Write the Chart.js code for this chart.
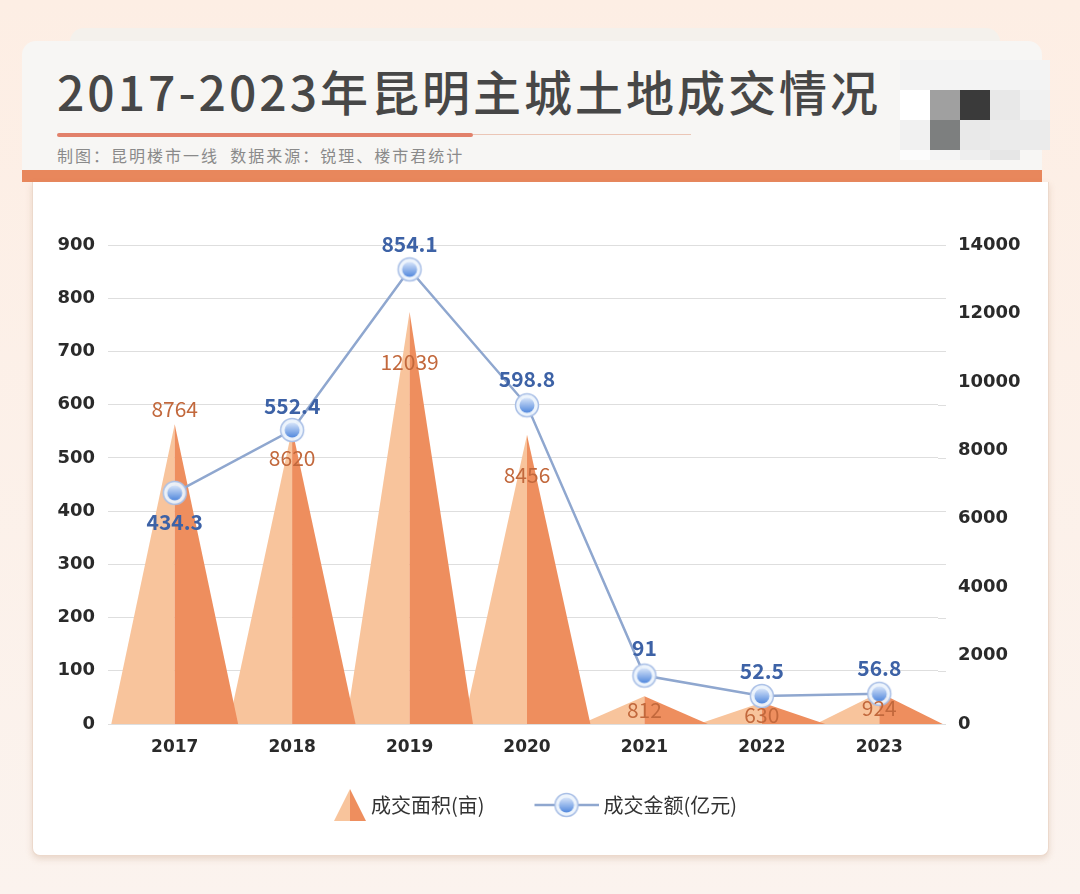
<!DOCTYPE html>
<html>
<head>
<meta charset="utf-8">
<script src="https://cdn.jsdelivr.net/npm/chart.js@4/dist/chart.umd.min.js"></script>
<style>
  html, body { margin: 0; padding: 0; }
  body { width: 1080px; height: 894px; overflow: hidden; position: relative;
         background: linear-gradient(#fdeee4, #fbf3ee); font-family: "Noto Sans CJK SC", sans-serif; }
  .back { position: absolute; left: 70px; top: 28px; width: 930px; height: 40px; border-radius: 14px; background: #f4f1ec; }
  .head { position: absolute; left: 22px; top: 41px; width: 1020px; height: 135px; border-radius: 14px 14px 0 0; background: #f7f6f4; }
  .head h1 { position: absolute; left: 35px; top: 21px; margin: 0; font-size: 48px; font-weight: 500; letter-spacing: 3px; color: #474747; white-space: nowrap; line-height: 1.2; }
  .rule { position: absolute; left: 35px; top: 92px; width: 416px; height: 4px; background: #e2816a; border-radius: 2px; }
  .rule2 { position: absolute; left: 451px; top: 93px; width: 218px; height: 1px; background: #ebc6b6; }
  .sub { position: absolute; left: 35px; top: 102px; font-size: 16px; letter-spacing: 2px; color: #8a8a8a; white-space: pre; }
  .mosaic { position: absolute; left: 900px; top: 60px; width: 150px; height: 100px; }
  .mosaic div { position: absolute; width: 30px; height: 30px; }
  .bar { position: absolute; left: 22px; top: 170px; width: 1020px; height: 12px; background: #e8875c; }
  .card { position: absolute; left: 32px; top: 182px; width: 1015px; height: 673px; background: #fff;
          border-radius: 0 0 8px 8px; border: 1px solid #ecd9cc; border-top: none;
          box-shadow: 0 3px 6px rgba(190,150,120,0.3); }
  canvas { position: absolute; left: -20px; top: 182px; }
</style>
</head>
<body>
<div class="back"></div>
<div class="head">
  <h1>2017-2023年昆明主城土地成交情况</h1>
  <div class="rule"></div><div class="rule2"></div>
  <div class="sub">制图：昆明楼市一线  数据来源：锐理、楼市君统计</div>
</div>
<div class="mosaic">
  <div style="left:0;top:0;width:150px;background:#f3f3f3"></div>
  <div style="left:0;top:30px;background:#ffffff"></div>
  <div style="left:30px;top:30px;background:#a0a0a0"></div>
  <div style="left:60px;top:30px;background:#3a3a3a"></div>
  <div style="left:90px;top:30px;background:#e8e8e8"></div>
  <div style="left:120px;top:30px;background:#f1f1f1"></div>
  <div style="left:0;top:60px;background:#f1f1f1"></div>
  <div style="left:30px;top:60px;background:#7d7f7f"></div>
  <div style="left:60px;top:60px;background:#e9e9e9"></div>
  <div style="left:90px;top:60px;background:#ebebeb"></div>
  <div style="left:120px;top:60px;background:#ebebeb"></div>
  <div style="left:0;top:90px;height:10px;background:#fcfcfc"></div>
  <div style="left:30px;top:90px;height:10px;background:#f4f4f4"></div>
  <div style="left:60px;top:90px;height:10px;background:#eeeeee"></div>
  <div style="left:90px;top:90px;height:10px;background:#e6e6e6"></div>
</div>
<div class="bar"></div>
<div class="card"></div>
<canvas id="myChart" width="1100" height="674"></canvas>

<script>
// categories and values
let years = ['2017', '2018', '2019', '2020', '2021', '2022', '2023'];
let areaMu = [8764, 8620, 12039, 8456, 812, 630, 924];          // 成交面积(亩), right axis
let amountYi = [434.3, 552.4, 854.1, 598.8, 91, 52.5, 56.8];    // 成交金额(亿元), left axis
let amountAxisMax = 900, amountAxisStep = 100;
let areaAxisMax = 14000, areaAxisStep = 2000;

// colours
let coneLight = '#f8c49c';
let coneDark = '#ee8e5e';
let lineBlue = '#8fa7cf';

// where each value label sits relative to its mark (px, + is down)
let areaLabelShift = [-15, 29, 50, 40, 14, 13, 16];
let amountLabelShift = [29, -24, -25, -26, -28, -25, -26];

// legend icons: 84px box, icon right-aligned and poking 5px past the box
let iconBox = 84, iconPoke = 5;

function makeDot(w, lineLen) {
    let c = document.createElement('canvas');
    c.width = w; c.height = 28;
    let g = c.getContext('2d');
    let cx = w - (lineLen ? lineLen / 2 : w / 2), cy = 14;
    if (lineLen) {
        g.strokeStyle = lineBlue; g.lineWidth = 2.5;
        g.beginPath(); g.moveTo(w - lineLen, cy); g.lineTo(w, cy); g.stroke();
    }
    g.fillStyle = 'rgba(236,243,252,0.95)';
    g.beginPath(); g.arc(cx, cy, 11.5, 0, Math.PI * 2); g.fill();
    g.strokeStyle = '#a9bfe6'; g.lineWidth = 1.5; g.stroke();
    let grad = g.createLinearGradient(0, cy - 8, 0, cy + 8);
    grad.addColorStop(0, '#dbe7fa');
    grad.addColorStop(1, '#4d85dc');
    g.fillStyle = grad;
    g.beginPath(); g.arc(cx, cy, 7.5, 0, Math.PI * 2); g.fill();
    return c;
}

function makeCone(w) {
    let c = document.createElement('canvas');
    c.width = w; c.height = 34;
    let g = c.getContext('2d');
    let cx = w - 16;
    g.fillStyle = coneLight;
    g.beginPath(); g.moveTo(cx, 1); g.lineTo(cx - 16, 33); g.lineTo(cx, 33); g.closePath(); g.fill();
    g.fillStyle = coneDark;
    g.beginPath(); g.moveTo(cx, 1); g.lineTo(cx + 16, 33); g.lineTo(cx, 33); g.closePath(); g.fill();
    return c;
}

let dotImg = makeDot(28, 0);
let legendLine = makeDot(iconBox + 2 * iconPoke, 64);
let legendCone = makeCone(iconBox + 2 * iconPoke);

// draws the two-tone triangles from the (invisible) bar elements, then the value labels
const conePlugin = {
    id: 'cones',
    beforeDatasetsDraw(chart) {
        let ctx = chart.ctx;
        let area = chart.chartArea;
        ctx.save();
        // grid lines run a bit past the right edge in the original
        ctx.strokeStyle = '#dedede'; ctx.lineWidth = 1;
        chart.scales.y.ticks.forEach((t, i) => {
            let y = Math.round(chart.scales.y.getPixelForTick(i)) + 0.5;
            ctx.beginPath(); ctx.moveTo(area.right, y); ctx.lineTo(area.right + 8, y); ctx.stroke();
        });
        let bars = chart.getDatasetMeta(0).data;
        for (let i = bars.length - 1; i >= 0; i--) {
            let b = bars[i];
            let half = b.width * 0.54;
            ctx.fillStyle = coneLight;
            ctx.beginPath(); ctx.moveTo(b.x, b.y); ctx.lineTo(b.x - half, b.base); ctx.lineTo(b.x, b.base); ctx.closePath(); ctx.fill();
            ctx.fillStyle = coneDark;
            ctx.beginPath(); ctx.moveTo(b.x, b.y); ctx.lineTo(b.x + half, b.base); ctx.lineTo(b.x, b.base); ctx.closePath(); ctx.fill();
        }
        ctx.restore();
    },
    afterDatasetsDraw(chart) {
        let ctx = chart.ctx;
        ctx.save();
        ctx.textAlign = 'center';
        ctx.textBaseline = 'middle';
        ctx.font = '21px "Noto Sans CJK SC"';
        ctx.fillStyle = '#c2683c';
        chart.getDatasetMeta(0).data.forEach((b, i) => {
            ctx.fillText(String(areaMu[i]), b.x, b.y + areaLabelShift[i]);
        });
        ctx.font = 'bold 21px "Noto Sans CJK SC"';
        ctx.fillStyle = '#3d62a6';
        chart.getDatasetMeta(1).data.forEach((p, i) => {
            ctx.fillText(String(amountYi[i]), p.x, p.y + amountLabelShift[i]);
        });
        ctx.restore();
    }
};

let tickFont = { family: 'DejaVu Sans', weight: 'bold', size: 18 };

let data = {
    labels: years,
    datasets: [
        {
            type: 'bar',
            label: '成交面积(亩)',
            data: areaMu,
            yAxisID: 'y1',
            backgroundColor: 'rgba(0,0,0,0)',
            borderWidth: 0,
            categoryPercentage: 1,
            barPercentage: 1
        },
        {
            type: 'line',
            label: '成交金额(亿元)',
            data: amountYi,
            yAxisID: 'y',
            borderColor: lineBlue,
            borderWidth: 2.5,
            pointStyle: dotImg,
            tension: 0
        }
    ]
};

let options = {
    responsive: false,
    animation: false,
    devicePixelRatio: 1,
    events: [],
    layout: { padding: { top: 63, right: 46, bottom: 31, left: 0 } },
    plugins: {
        tooltip: { enabled: false },
        legend: {
            position: 'bottom',
            labels: {
                usePointStyle: true,
                pointStyleWidth: iconBox,
                padding: 25,
                color: '#333',
                font: { family: 'Noto Sans CJK SC', size: 20 },
                generateLabels(chart) {
                    let items = Chart.defaults.plugins.legend.labels.generateLabels(chart);
                    items[0].pointStyle = legendCone;
                    items[1].pointStyle = legendLine;
                    return items;
                }
            }
        }
    },
    scales: {
        x: {
            offset: true,
            grid: { display: false, drawTicks: false },
            border: { display: false },
            ticks: { color: '#2a2a2a', font: { family: 'DejaVu Sans', weight: 'bold', size: 17 }, padding: 13 },
            afterFit(s) { s.height = 46; }
        },
        y: {
            position: 'left',
            min: 0, max: amountAxisMax,
            grid: { color: '#dedede', tickLength: 8 },
            border: { display: false },
            ticks: { stepSize: amountAxisStep, color: '#2a2a2a', font: tickFont, padding: 13 },
            afterFit(s) { s.width = 136; }
        },
        y1: {
            position: 'right',
            min: 0, max: areaAxisMax,
            grid: { display: false, drawTicks: false },
            border: { display: false },
            ticks: { stepSize: areaAxisStep, color: '#2a2a2a', font: tickFont, padding: 20, callback: v => String(v) },
            afterFit(s) { s.width = 96; }
        }
    }
};

let ctx = document.getElementById('myChart').getContext('2d');
let myChart = new Chart(ctx, {
    type: 'bar',
    data: data,
    options: options,
    plugins: [conePlugin]
});
</script>
</body>
</html>
